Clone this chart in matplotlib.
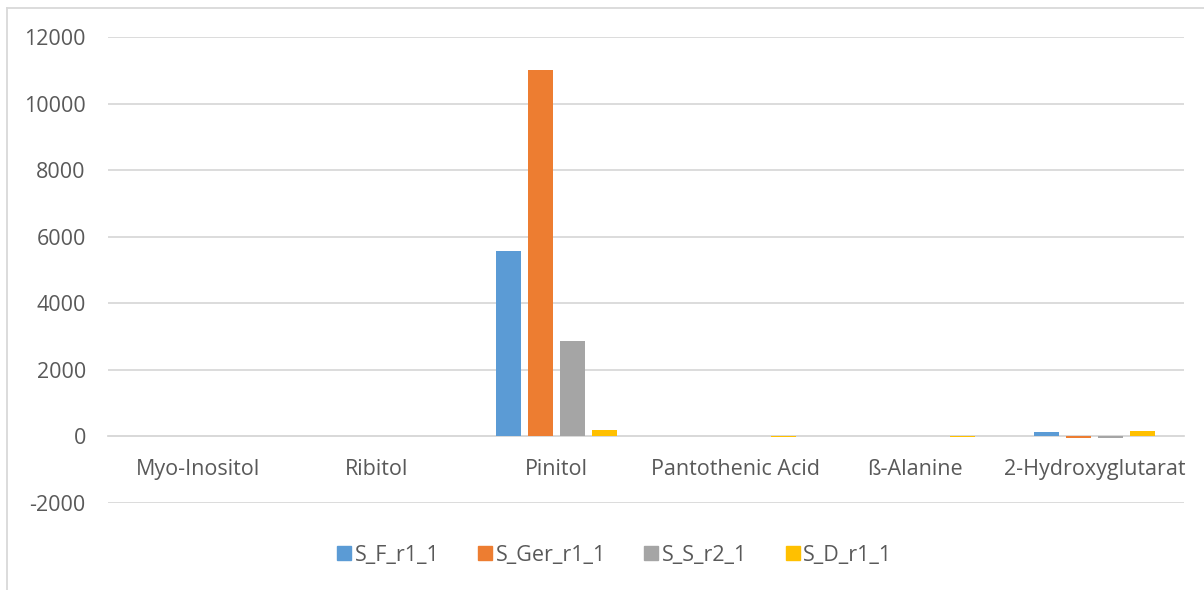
import numpy as np
import matplotlib.pyplot as plt
from matplotlib.lines import Line2D

plt.rcParams["font.family"] = ["Open Sans", "DejaVu Sans"]
plt.rcParams["axes.unicode_minus"] = False

# metabolite categories and per-sample values
categories = ["Myo-Inositol", "Ribitol", "Pinitol", "Pantothenic Acid", "ß-Alanine", "2-Hydroxyglutarat"]
s_f_r1_1 = [0, 0, 5570, 0, 0, 130]
s_ger_r1_1 = [0, 0, 11000, 0, 0, -50]
s_s_r2_1 = [20, 0, 2870, 0, 20, -45]
s_d_r1_1 = [0, 0, 190, -20, -20, 170]

series = {
    "S_F_r1_1": (s_f_r1_1, "#5b9bd5"),
    "S_Ger_r1_1": (s_ger_r1_1, "#ed7d31"),
    "S_S_r2_1": (s_s_r2_1, "#a5a5a5"),
    "S_D_r1_1": (s_d_r1_1, "#ffc000"),
}

text_col = "#595959"
grid_col = "#d9d9d9"
fs = 15.5

fig = plt.figure(figsize=(12.04, 5.90), dpi=100)
ax = fig.add_axes([108 / 1204, 1 - 503 / 590, (1184 - 108) / 1204, (503 - 37) / 590])

x = np.arange(len(categories))
bw = 0.14
step = 0.178
for i, (name, (vals, col)) in enumerate(series.items()):
    ax.bar(x + (i - 1.5) * step, vals, width=bw, color=col, label=name, zorder=3)

ax.set_xlim(-0.5, len(categories) - 0.5)
ax.set_ylim(-2000, 12000)
ax.set_yticks(range(-2000, 12001, 2000))
ax.yaxis.grid(True, color=grid_col, linewidth=1.3, zorder=0)
ax.tick_params(axis="y", length=0, pad=16, labelsize=fs, labelcolor=text_col)

# category axis sits on the zero line
for s in ["top", "right", "left"]:
    ax.spines[s].set_visible(False)
ax.spines["bottom"].set_position(("data", 0))
ax.spines["bottom"].set_color(grid_col)
ax.spines["bottom"].set_linewidth(1.3)
ax.set_xticks(x)
ax.set_xticklabels(categories)
ax.tick_params(axis="x", length=0, pad=16, labelsize=fs, labelcolor=text_col)

handles = [Line2D([], [], marker="s", linestyle="none", markersize=10,
                  color=col, label=name) for name, (vals, col) in series.items()]
fig.legend(handles=handles, loc="center", bbox_to_anchor=(613 / 1204, 1 - 555 / 590),
           ncol=4, frameon=False, fontsize=fs, labelcolor=text_col,
           handletextpad=0.0, columnspacing=1.6, handlelength=1.0)

# chart area outline
fig.add_artist(Line2D([7 / 1204, 7 / 1204], [0, 1 - 8 / 590], color=grid_col, linewidth=1.3))
fig.add_artist(Line2D([7 / 1204, 1], [1 - 8 / 590, 1 - 8 / 590], color=grid_col, linewidth=1.3))

fig.savefig("out.png", dpi=100)
